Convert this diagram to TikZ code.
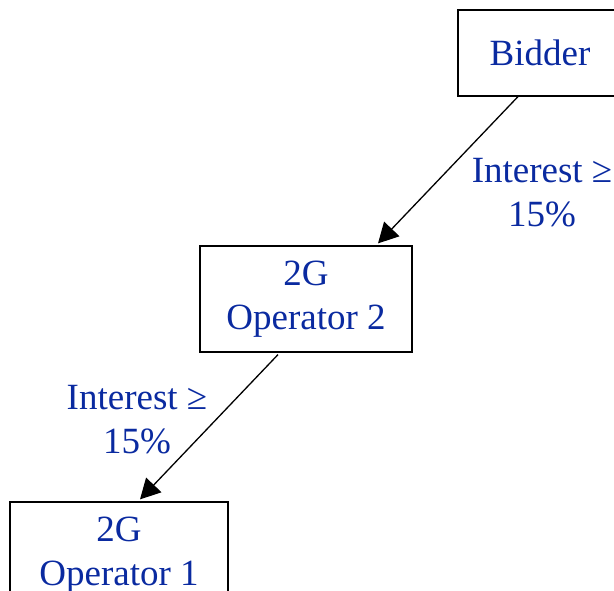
\documentclass[tikz,border=0pt]{standalone}
\usepackage{fontspec}
\setmainfont{Liberation Serif}
\usetikzlibrary{arrows.meta}
\definecolor{textblue}{RGB}{10,42,160}
\tikzset{
  party/.style={draw, line width=1.2pt, text=textblue, align=center,
    font=\fontsize{37}{44}\selectfont, inner sep=0pt},
  share/.style={text=textblue, align=center, font=\fontsize{37}{44}\selectfont, inner sep=0pt},
  owns/.style={-{Triangle[length=20pt,width=21pt]}, line width=1.3pt}
}

\begin{document}
\begin{tikzpicture}[x=1pt,y=1pt]
    % page frame
    \useasboundingbox (0,0) rectangle (614,-591);

    % holders
    \node[party, minimum width=164pt, minimum height=86pt] (bidder) at (540,-53) {Bidder};
    \node[party, minimum width=212pt, minimum height=106pt] (op2) at (306,-299) {2G\\Operator 2};
    \node[party, minimum width=218pt, minimum height=106pt] (op1) at (119,-555) {2G\\Operator 1};

    % shares
    \node[share] (int2) at (542,-193) {Interest ≥\\15\%};
    \node[share] (int1) at (137,-420) {Interest ≥\\15\%};

    % edges
    \draw[owns] ([xshift=-22pt]bidder.south) -- ([xshift=72pt,yshift=2pt]op2.north);
    \draw[owns] ([xshift=-28pt,yshift=-2pt]op2.south) -- ([xshift=21pt,yshift=2pt]op1.north);
\end{tikzpicture}
\end{document}
